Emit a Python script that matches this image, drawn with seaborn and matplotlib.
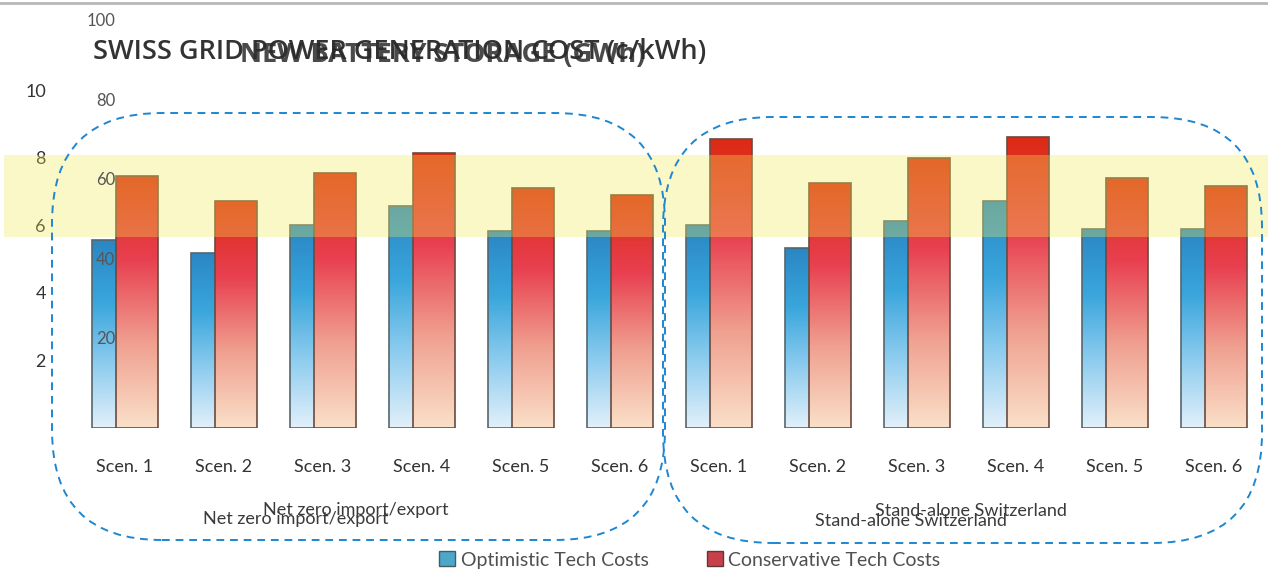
import numpy as np
import pandas as pd
import matplotlib
matplotlib.use("Agg")
import matplotlib.pyplot as plt
import seaborn as sns
from matplotlib.colors import LinearSegmentedColormap
from matplotlib.patches import FancyBboxPatch, Rectangle, Patch
from matplotlib.lines import Line2D
from matplotlib import transforms

# data
scenarios = ["Scen. 1", "Scen. 2", "Scen. 3", "Scen. 4", "Scen. 5", "Scen. 6"]
groups = ["Net zero import/export", "Stand-alone Switzerland"]
optimistic = [5.56, 5.18, 6.00, 6.57, 5.83, 5.83, 6.00, 5.33, 6.12, 6.72, 5.89, 5.89]
conservative = [7.46, 6.72, 7.54, 8.14, 7.10, 6.89, 8.55, 7.25, 7.99, 8.61, 7.40, 7.16]
band = [5.65, 8.08]
left_ticks = [2, 4, 6, 8, 10]
cost_ticks = [20, 40, 60, 80, 100]
series = ["Optimistic Tech Costs", "Conservative Tech Costs"]

sns.set_style("white")
plt.rcParams['font.family'] = ['Lato', 'DejaVu Sans']

W, H = 1268, 581
fig = plt.figure(figsize=(W / 100, H / 100), dpi=100)
ax = fig.add_axes([75 / W, (H - 428) / H, (1263 - 75) / W, (428 - 10) / H])

labels = scenarios * 2
pos = np.arange(len(labels))
df_opt = pd.DataFrame({"pos": pos - 0.21, "val": optimistic})
df_con = pd.DataFrame({"pos": pos + 0.12, "val": conservative})

blue_cmap = LinearSegmentedColormap.from_list("b", ["#e2f0fa", "#8fcdef", "#3aa6dc", "#2a86c4"])
red_cmap = LinearSegmentedColormap.from_list("r", ["#fae0c8", "#f0a090", "#e84050", "#dc2a14"])
grad = np.linspace(0, 1, 256).reshape(-1, 1)


def paint(patches, cmap, z):
    for p in patches:
        x0, y0 = p.get_x(), p.get_y()
        w, h = p.get_width(), p.get_height()
        im = ax.imshow(grad, cmap=cmap, origin="lower", aspect="auto",
                       extent=[x0, x0 + w, y0, y0 + h], zorder=z)
        im.set_clip_path(p)
        p.set_facecolor("none")
        p.set_zorder(z + 0.05)


n0 = len(ax.patches)
sns.barplot(data=df_opt, x="pos", y="val", native_scale=True, orient="x", width=0.25,
            errorbar=None, color="#3aa6dc", edgecolor="#56666c", linewidth=1.2, ax=ax)
paint(ax.patches[n0:], blue_cmap, 2.0)
n1 = len(ax.patches)
sns.barplot(data=df_con, x="pos", y="val", native_scale=True, orient="x", width=0.42,
            errorbar=None, color="#e23a2a", edgecolor="#6a4a40", linewidth=1.2, ax=ax)
paint(ax.patches[n1:], red_cmap, 2.2)

ax.set_xlim(-0.505, 11.495)
ax.set_ylim(0, 12.37)
ax.set_xlabel("")
ax.set_ylabel("")
ax.set_xticks(pos)
ax.set_xticklabels(labels, fontsize=13, color="#333333")
ax.set_yticks(left_ticks)
ax.set_yticklabels([str(t) for t in left_ticks], fontsize=13, color="#333333")
ax.tick_params(axis="x", length=0, pad=22)
ax.tick_params(axis="y", length=0, pad=21)
sns.despine(ax=ax, left=True, bottom=True)

# second (ghost) scale of the overlapping chart
ax2 = ax.twinx()
ax2.set_ylim(-2.64, 102.5)
ax2.yaxis.tick_left()
ax2.set_yticks(cost_ticks)
ax2.set_yticklabels([str(t) for t in cost_ticks], fontsize=12, color="#555555")
ax2.tick_params(axis="y", length=0, pad=-29)
for s in ax2.spines.values():
    s.set_visible(False)

# yellow band across the full width
tr = transforms.blended_transform_factory(fig.transFigure, ax.transData)
ax.add_patch(Rectangle((0.003, band[0]), 0.997, band[1] - band[0], transform=tr,
                       facecolor="#f5ec55", alpha=0.32, edgecolor="none", zorder=3, clip_on=False))

# titles (two overlapping)
fig.text(93 / W, 1 - 52 / H, "SWISS GRID POWER GENERATION COST (c/kWh)", fontsize=19.5,
         family=["Open Sans", "DejaVu Sans"], fontweight="semibold",
         color="#333333", va="center")
fig.text(240 / W, 1 - 55 / H, "NEW BATTERY STORAGE (GWh)", fontsize=19.5, fontweight="bold",
         family=["Open Sans", "DejaVu Sans"], color="#2a2a2a", va="center", alpha=0.85)

# group labels (ghosted twice)
fig.text(296 / W, 1 - 519 / H, groups[0], fontsize=13, color="#3a3a3a", ha="center", va="center")
fig.text(356 / W, 1 - 510 / H, groups[0], fontsize=13, color="#3a3a3a", ha="center", va="center")
fig.text(911 / W, 1 - 521 / H, groups[1], fontsize=13, color="#3a3a3a", ha="center", va="center")
fig.text(971 / W, 1 - 511 / H, groups[1], fontsize=13, color="#3a3a3a", ha="center", va="center")

# dashed rounded outlines around the two groups
for (x0, y0, x1, y1) in [(52, 113, 665, 540), (663, 117, 1262, 543)]:
    fig.add_artist(FancyBboxPatch((x0, H - y1), x1 - x0, y1 - y0,
                                  boxstyle="round,pad=0,rounding_size=110",
                                  transform=transforms.IdentityTransform(),
                                  facecolor="none", edgecolor="#1f86d0", linestyle=(0, (4, 3)),
                                  linewidth=1.4, zorder=5))

fig.add_artist(Line2D([0, 1], [1 - 3 / H] * 2, transform=fig.transFigure, color="#b8b8b8", lw=2))

handles = [Patch(facecolor="#4aa8c8", edgecolor="#4a5a60"),
           Patch(facecolor="#c8404a", edgecolor="#5a3a3a")]
fig.legend(handles, series, loc="center", bbox_to_anchor=(690 / W, 1 - 560 / H), ncol=2,
           frameon=False, fontsize=14, handlelength=0.8, handleheight=0.8,
           handletextpad=0.3, columnspacing=3.0, labelcolor="#505050")

fig.savefig("out.png", dpi=100)
